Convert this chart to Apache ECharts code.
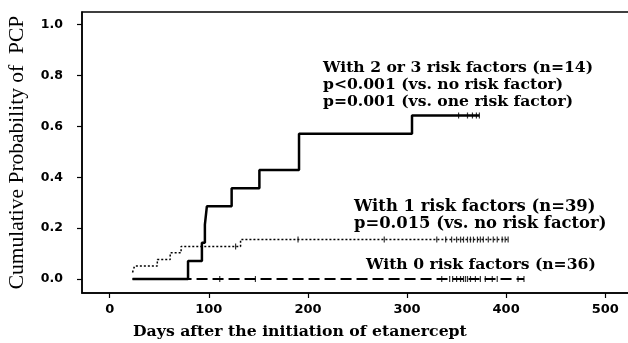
<!DOCTYPE html>
<html>
<head>
<meta charset="utf-8">
<script src="https://cdn.jsdelivr.net/npm/echarts@6/dist/echarts.min.js"></script>
<style>html,body{margin:0;padding:0;background:#fff}#c{width:628px;height:343px}</style>
</head>
<body>
<div id="c"></div>
<script>
// ---- data ----
var xTicks = [0, 100, 200, 300, 400, 500];
var yTicks = [0, 0.2, 0.4, 0.6, 0.8, 1.0];

// With 2 or 3 risk factors (n=14)
var g3Days = [23, 79, 93, 96, 98, 123, 151, 191, 305, 373];
var g3Prob = [0, 0.071, 0.143, 0.214, 0.286, 0.357, 0.429, 0.571, 0.643, 0.643];
var g3Censor = [352, 361, 366, 370, 373];

// With 1 risk factor (n=39)
var g1Days = [23, 25, 48, 61, 72, 132, 403];
var g1Prob = [0.026, 0.051, 0.077, 0.103, 0.128, 0.155, 0.155];
var g1Censor = [127, 190, 277, 330, 339, 345, 350, 354, 357, 361, 364, 367, 371, 374, 377, 382, 387, 391, 396, 399, 402];

// With 0 risk factors (n=36)
var g0Days = [23, 418];
var g0Prob = [0, 0];
var g0Censor = [111, 147, 335, 343, 346, 350, 354, 357, 359, 361, 364, 369, 374, 379, 386, 391, 412, 418];

var labels = [
  'With 2 or 3 risk factors (n=14)',
  'p<0.001 (vs. no risk factor)',
  'p=0.001 (vs. one risk factor)',
  'With 1 risk factors (n=39)',
  'p=0.015 (vs. no risk factor)',
  'With 0 risk factors (n=36)'
];
var xTitle = 'Days after the initiation of etanercept';
var yTitle = 'Cumulative Probability of  PCP';

// ---- build ----
function pairs(xs, ys) { return xs.map(function (x, i) { return [x, ys[i]]; }); }
function censorPts(days, xs, ys) {
  return days.map(function (d) {
    var v = ys[0];
    for (var i = 0; i < xs.length; i++) { if (xs[i] <= d) v = ys[i]; }
    return [d, v];
  });
}
var chart = echarts.init(document.getElementById('c'), null, {renderer: 'canvas'});
var censorStyle = {color: '#000'};
function textEl(txt, left, top, size) {
  return {type: 'text', left: left, top: top,
    style: {text: txt, font: 'bold ' + size + 'px "DejaVu Serif"', fill: '#000'}};
}
chart.setOption({
  animation: false,
  grid: {left: 82, top: 12, width: 550, height: 281, show: true, borderColor: '#000', borderWidth: 1.5,
    containLabel: false, outerBoundsMode: 'none'},
  xAxis: {
    type: 'value', min: -28, max: 527,
    axisLine: {show: true, onZero: false, lineStyle: {color: '#000', width: 1.5}},
    axisTick: {show: true, inside: false, length: 5, customValues: xTicks, lineStyle: {color: '#000', width: 1.2}},
    axisLabel: {customValues: xTicks, margin: 10, color: '#000', fontFamily: 'DejaVu Sans', fontWeight: 'bold', fontSize: 13},
    splitLine: {show: false}
  },
  yAxis: {
    type: 'value', min: -0.055, max: 1.05,
    name: yTitle, nameLocation: 'middle', nameGap: 54,
    nameTextStyle: {fontFamily: 'Liberation Serif', fontSize: 21.5, color: '#000'},
    axisLine: {show: true, onZero: false, lineStyle: {color: '#000', width: 1.5}},
    axisTick: {show: true, inside: false, length: 5, customValues: yTicks, lineStyle: {color: '#000', width: 1.2}},
    axisLabel: {customValues: yTicks, margin: 19, color: '#000', fontFamily: 'DejaVu Sans', fontWeight: 'bold', fontSize: 12.5,
      formatter: function (v) { return v.toFixed(1); }},
    splitLine: {show: false}
  },
  graphic: [
    textEl(labels[0], 323, 60, 15.6),
    textEl(labels[1], 323, 77, 15.6),
    textEl(labels[2], 323, 94, 15.6),
    textEl(labels[3], 354, 199, 16.4),
    textEl(labels[4], 354, 216, 16.4),
    textEl(labels[5], 366, 257, 15.6),
    {type: 'text', left: 133, top: 324, style: {text: xTitle, font: 'bold 15.7px "DejaVu Serif"', fill: '#000'}}
  ],
  series: [
    {type: 'line', step: 'end', data: pairs(g0Days, g0Prob), symbol: 'none',
      lineStyle: {color: '#000', width: 2, type: [11, 5]}},
    {type: 'line', step: 'end', data: pairs(g1Days, g1Prob), symbol: 'none',
      lineStyle: {color: '#000', width: 1.5, type: [2, 2]}},
    {type: 'line', step: 'end', data: pairs(g3Days, g3Prob), symbol: 'none',
      lineStyle: {color: '#000', width: 2.5, type: 'solid'}},
    {type: 'scatter', data: censorPts(g0Censor, g0Days, g0Prob), symbol: 'rect', symbolSize: [1.2, 6], itemStyle: censorStyle},
    {type: 'scatter', data: censorPts(g1Censor, g1Days, g1Prob), symbol: 'rect', symbolSize: [1.2, 6], itemStyle: censorStyle},
    {type: 'scatter', data: censorPts(g3Censor, g3Days, g3Prob), symbol: 'rect', symbolSize: [1.2, 6], itemStyle: censorStyle}
  ]
});
</script>
</body>
</html>
